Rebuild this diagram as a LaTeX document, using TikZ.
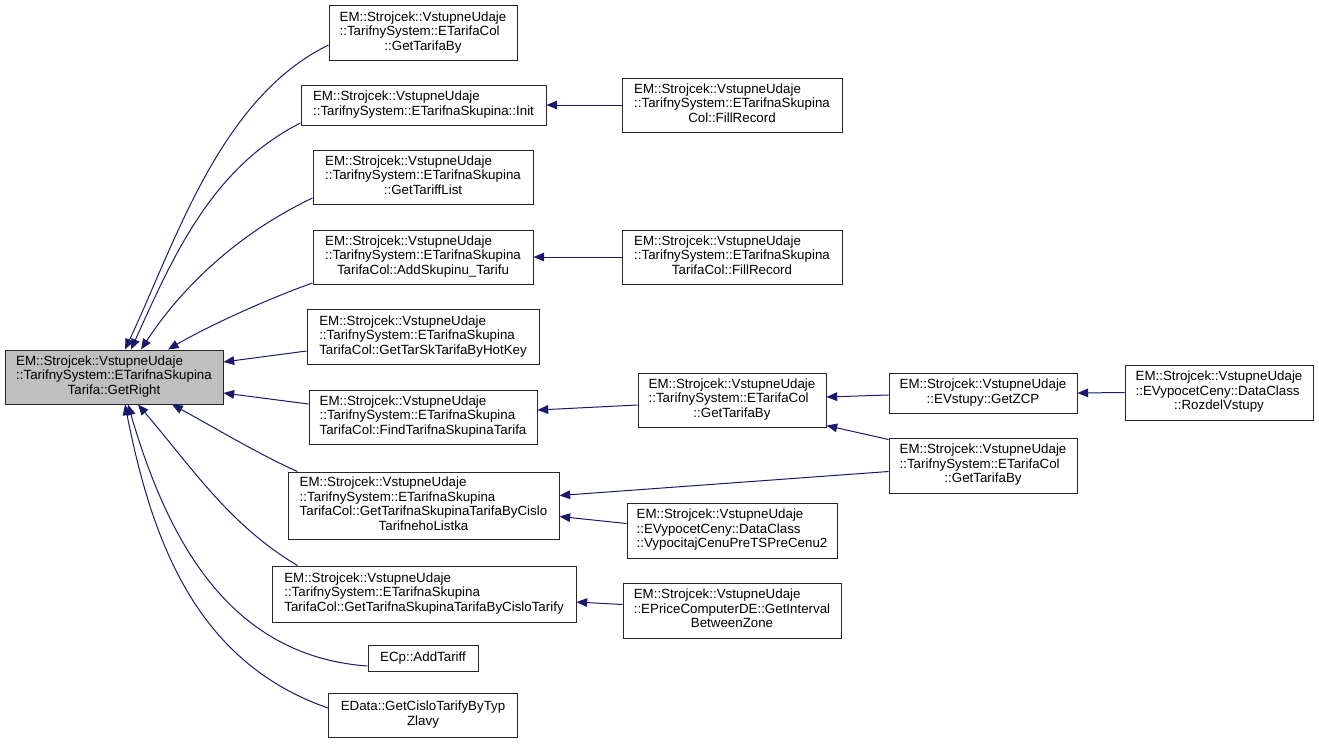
\documentclass[tikz,border=0pt]{standalone}
\usepackage{fontspec}
\setmainfont{Liberation Sans}
\usetikzlibrary{arrows.meta,calc}
\definecolor{edgeblue}{HTML}{191970}
\definecolor{mainfill}{HTML}{BFBFBF}
\newcommand{\dxl}[2]{\begin{tabular}{@{}l@{}}#1\\\multicolumn{1}{@{}c@{}}{#2}\end{tabular}}
\newcommand{\emsv}{EM::Strojcek::VstupneUdaje}
\newcommand{\tses}{::TarifnySystem::ETarifnaSkupina}
\begin{document}
\begin{tikzpicture}[x=0.75pt,y=-0.75pt,
  fn/.style={draw=black!85, line width=0.75pt, inner sep=0pt, fill=white, font=\fontsize{10}{10.9}\selectfont},
  mainfn/.style={fn, fill=mainfill},
  sz/.style 2 args={minimum width=#1*0.75pt, minimum height=#2*0.75pt},
  calls/.style={draw=edgeblue, line width=0.75pt, -{Triangle[length=8pt,width=6.5pt]}}]
\useasboundingbox (0,0) rectangle (1319,743);

% nodes
\node[mainfn, sz={218}{54}] (main) at (114,377) {\dxl{\emsv\\\tses}{Tarifa::GetRight}};
\node[fn, sz={188}{55}] (n1) at (423,33) {\dxl{\emsv\\::TarifnySystem::ETarifaCol}{::GetTarifaBy}};
\node[fn, sz={245}{40}] (n2) at (423.5,105) {\dxl{\emsv}{::TarifnySystem::ETarifnaSkupina::Init}};
\node[fn, sz={220}{54}] (n2a) at (732,105) {\dxl{\emsv\\\tses}{Col::FillRecord}};
\node[fn, sz={220}{54}] (n3) at (423,177) {\dxl{\emsv\\\tses}{::GetTariffList}};
\node[fn, sz={220}{54}] (n4) at (423,257) {\dxl{\emsv\\\tses}{TarifaCol::AddSkupinu\_Tarifu}};
\node[fn, sz={220}{54}] (n4a) at (732,257) {\dxl{\emsv\\\tses}{TarifaCol::FillRecord}};
\node[fn, sz={232}{55}] (n5) at (423,337) {\dxl{\emsv\\\tses}{TarifaCol::GetTarSkTarifaByHotKey}};
\node[fn, sz={228}{54}] (n6) at (423,417) {\dxl{\emsv\\\tses}{TarifaCol::FindTarifnaSkupinaTarifa}};
\node[fn, sz={188}{54}] (n6a) at (732,400) {\dxl{\emsv\\::TarifnySystem::ETarifaCol}{::GetTarifaBy}};
\node[fn, sz={188}{40}] (n6b) at (983,393) {\dxl{\emsv}{::EVstupy::GetZCP}};
\node[fn, sz={188}{55}] (n6c) at (1219,392.5) {\dxl{\emsv\\::EVypocetCeny::DataClass}{::RozdelVstupy}};
\node[fn, sz={188}{55}] (n6d) at (983,465.5) {\dxl{\emsv\\::TarifnySystem::ETarifaCol}{::GetTarifaBy}};
\node[fn, sz={271}{67}] (n7) at (423.5,505.5) {\dxl{\emsv\\\tses\\TarifaCol::GetTarifnaSkupinaTarifaByCislo}{TarifnehoListka}};
\node[fn, sz={210}{55}] (n7a) at (732,530.5) {\dxl{\emsv\\::EVypocetCeny::DataClass}{::VypocitajCenuPreTSPreCenu2}};
\node[fn, sz={304}{56}] (n8) at (424,594) {\dxl{\emsv\\\tses}{TarifaCol::GetTarifnaSkupinaTarifaByCisloTarify}};
\node[fn, sz={218}{55}] (n8a) at (732,610.5) {\dxl{\emsv\\::EPriceComputerDE::GetInterval}{BetweenZone}};
\node[fn, sz={110}{26}] (n9) at (423,658) {ECp::AddTariff};
\node[fn, sz={189}{44}] (n10) at (423,715) {\dxl{EData::GetCisloTarifyByTyp}{Zlavy}};

% edges into main
\draw[calls] ($(n1.west)+(0,12)$) .. controls (220,98) and (176,241) .. ($(main.north)+(11,0)$);
\draw[calls] ($(n2.west)+(0,18)$) .. controls (211,168) and (172,259) .. ($(main.north)+(17,0)$);
\draw[calls] ($(n3.west)+(0,21)$) .. controls (241,232) and (184,284) .. ($(main.north)+(27,0)$);
\draw[calls] ($(n4.west)+(0,26)$) .. controls (270,298) and (210,325) .. ($(main.north)+(54,0)$);
\draw[calls] ($(n5.west)+(0,14)$) -- ($(main.east)+(0,-15)$);
\draw[calls] ($(n6.west)+(0,-13)$) -- ($(main.east)+(0,16)$);
\draw[calls] ($(n7.north west)+(10,0)$) .. controls (260,455) and (210,425) .. ($(main.south)+(58,0)$);
\draw[calls] ($(n8.north west)+(26,0)$) .. controls (229,525) and (190,465) .. ($(main.south)+(24,0)$);
\draw[calls] ($(n9.west)+(0,8)$) .. controls (228,656) and (167,538) .. ($(main.south)+(14,0)$);
\draw[calls] ($(n10.west)+(0,-7)$) .. controls (196,662) and (152,541) .. ($(main.south)+(11,0)$);

% other edges
\draw[calls] (n2a.west) -- (n2.east);
\draw[calls] (n4a.west) -- (n4.east);
\draw[calls] ($(n6a.west)+(0,5)$) -- ($(n6.east)+(0,-7)$);
\draw[calls] ($(n6b.west)+(0,2)$) -- ($(n6a.east)+(0,-3)$);
\draw[calls] ($(n6d.north west)+(0,2)$) -- ($(n6a.south east)+(0,-2)$);
\draw[calls] (n6c.west) -- (n6b.east);
\draw[calls] ($(n6d.west)+(0,6)$) -- ($(n7.east)+(0,-10)$);
\draw[calls] ($(n7a.west)+(0,-7)$) -- ($(n7.east)+(0,11)$);
\draw[calls] ($(n8a.west)+(0,-6)$) -- ($(n8.east)+(0,8)$);
\end{tikzpicture}
\end{document}
